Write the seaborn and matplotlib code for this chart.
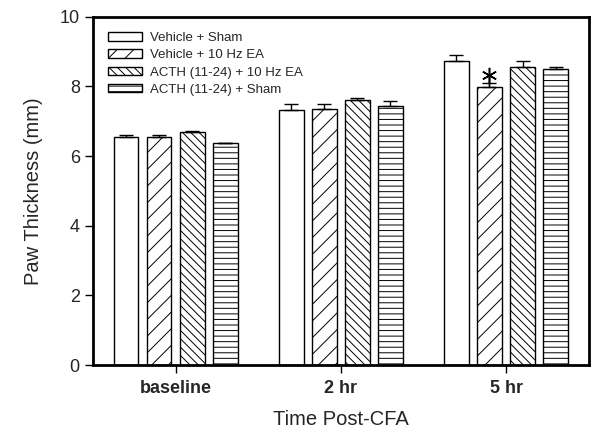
import matplotlib
matplotlib.use("Agg")
import matplotlib.pyplot as plt
import seaborn as sns
import pandas as pd
import numpy as np

categories = ["baseline", "2 hr", "5 hr"]
groups = ["Vehicle + Sham", "Vehicle + 10 Hz EA", "ACTH (11-24) + 10 Hz EA", "ACTH (11-24) + Sham"]
veh_sham = [6.54, 7.31, 8.74]
veh_ea = [6.54, 7.34, 7.99]
acth_ea = [6.70, 7.60, 8.55]
acth_sham = [6.37, 7.45, 8.51]
err_veh_sham = [0.08, 0.18, 0.17]
err_veh_ea = [0.06, 0.17, 0.12]
err_acth_ea = [0.03, 0.07, 0.18]
err_acth_sham = [0.02, 0.14, 0.05]
yticks = [0, 2, 4, 6, 8, 10]
sig_y = 8.32  # position of the significance asterisk (5 hr, Vehicle + 10 Hz EA)

values = [veh_sham, veh_ea, acth_ea, acth_sham]
errors = [err_veh_sham, err_veh_ea, err_acth_ea, err_acth_sham]
rows = []
for g, vals, errs in zip(groups, values, errors):
    for c, v, e in zip(categories, vals, errs):
        rows.append({"Time": c, "Group": g, "Value": v, "Err": e})
df = pd.DataFrame(rows)

sns.set_style("white")
plt.rcParams["font.family"] = ["Liberation Sans", "DejaVu Sans"]
plt.rcParams["hatch.linewidth"] = 0.7

fig = plt.figure(figsize=(6, 4.42), dpi=100)
ax = fig.add_axes([0.155, 0.174, 0.826, 0.788])

sns.barplot(data=df, x="Time", y="Value", hue="Group", order=categories,
            hue_order=groups, errorbar=None, width=0.8, gap=0.25,
            color="white", edgecolor="black", linewidth=1.0, ax=ax, legend=True)

hatches = ["", "//", "\\\\\\\\", "---"]
for container, h, g in zip(ax.containers, hatches, groups):
    sub = df[df["Group"] == g].set_index("Time").loc[categories]
    xs, ys = [], []
    for bar in container:
        bar.set_facecolor("white")
        bar.set_edgecolor("black")
        bar.set_hatch(h)
        xs.append(bar.get_x() + bar.get_width() / 2)
        ys.append(bar.get_height())
    ax.errorbar(xs, ys, yerr=[np.zeros(len(xs)), sub["Err"].values], fmt="none",
                ecolor="black", elinewidth=1.0, capsize=5, capthick=1.0, zorder=1)

# significance marker on Vehicle + 10 Hz EA at 5 hr
bar = ax.containers[1][2]
bx = bar.get_x() + bar.get_width() / 2
ax.plot([bx, bx], [veh_ea[2], sig_y], color="black", lw=1.0)
ax.plot([bx], [sig_y], marker=(6, 2, 0), markersize=11, mew=1.1, color="black")

ax.set_ylim(0, 10)
ax.set_xlim(-0.5, 2.5)
ax.set_yticks(yticks)
ax.set_ylabel("Paw Thickness (mm)", fontsize=14.5, labelpad=12)
ax.set_xlabel("Time Post-CFA", fontsize=14.5, labelpad=9)
ax.tick_params(axis="both", direction="out", length=6, width=1, color="black",
               labelsize=13, left=True, bottom=True)
ax.tick_params(axis="x", labelsize=13, pad=5)
for lbl in ax.get_xticklabels():
    lbl.set_fontweight("bold")
for s in ax.spines.values():
    s.set_linewidth(2)
    s.set_color("black")
    s.set_visible(True)

handles, labels = ax.get_legend_handles_labels()
for hnd, h in zip(handles, hatches):
    hnd.set_hatch(h)
    hnd.set_facecolor("white")
    hnd.set_edgecolor("black")
ax.legend(handles, labels, loc="upper left", frameon=False, fontsize=9.5,
          handlelength=2.6, handleheight=0.6, labelspacing=0.4,
          handletextpad=0.55, borderaxespad=0.75, bbox_to_anchor=(0.0, 1.0))

fig.savefig("out.png", dpi=100)
